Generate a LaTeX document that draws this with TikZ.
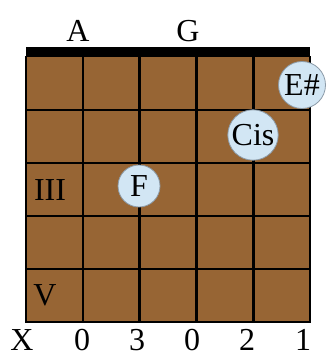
\documentclass[tikz,border=0pt]{standalone}
\usepackage{fontspec}
\setmainfont{Liberation Serif}
\usepackage{xcolor}
\definecolor{fretbrown}{RGB}{151,101,52}
\definecolor{noteblue}{RGB}{210,230,244}
\definecolor{noteedge}{RGB}{140,155,168}

\begin{document}
\begin{tikzpicture}[x=1pt, y=-1pt, line cap=rect, line join=miter,
  every node/.style={font=\fontsize{32}{34}\selectfont, inner sep=0pt},
  note/.style={circle, fill=noteblue, draw=noteedge, line width=0.8pt,
    minimum size=42pt, inner sep=1pt}]

\useasboundingbox (0,0) rectangle (334,361);

%==================================================
% Fretboard
%==================================================
\coordinate (TL) at (26,57);
\coordinate (BR) at (310,322);

\fill[fretbrown] (TL) rectangle (BR);

% Nut: thick black bar on top
\fill[black] (26,47) rectangle (310,57);

% Strings (vertical)
\foreach \i in {0,...,5}{
  \draw[line width=2.6pt] (26+56.8*\i,57) -- (26+56.8*\i,322);
}

% Frets (horizontal)
\foreach \j in {1,...,5}{
  \draw[line width=2.6pt] (26,57+53*\j) -- (310,57+53*\j);
}

%==================================================
% Labels
%==================================================
\node (nA) at (78,31) {A};
\node (nG) at (188,31) {G};

\node (fIII) at (50,190) {III};
\node (fV)   at (45,295) {V};

% Bottom fingering row
\node (s1) at (22,340)  {X};
\node (s2) at (82,340)  {0};
\node (s3) at (137,340) {3};
\node (s4) at (192,340) {0};
\node (s5) at (247,340) {2};
\node (s6) at (303,340) {1};

%==================================================
% Fingered notes
%==================================================
\node[note] (nF)   at (139,186) {F};
\node[note, minimum size=43pt] (nCis) at (253,135) {Cis};
\node[note, minimum size=47pt] (nEis) at (302,85) {E\#};

\end{tikzpicture}
\end{document}
